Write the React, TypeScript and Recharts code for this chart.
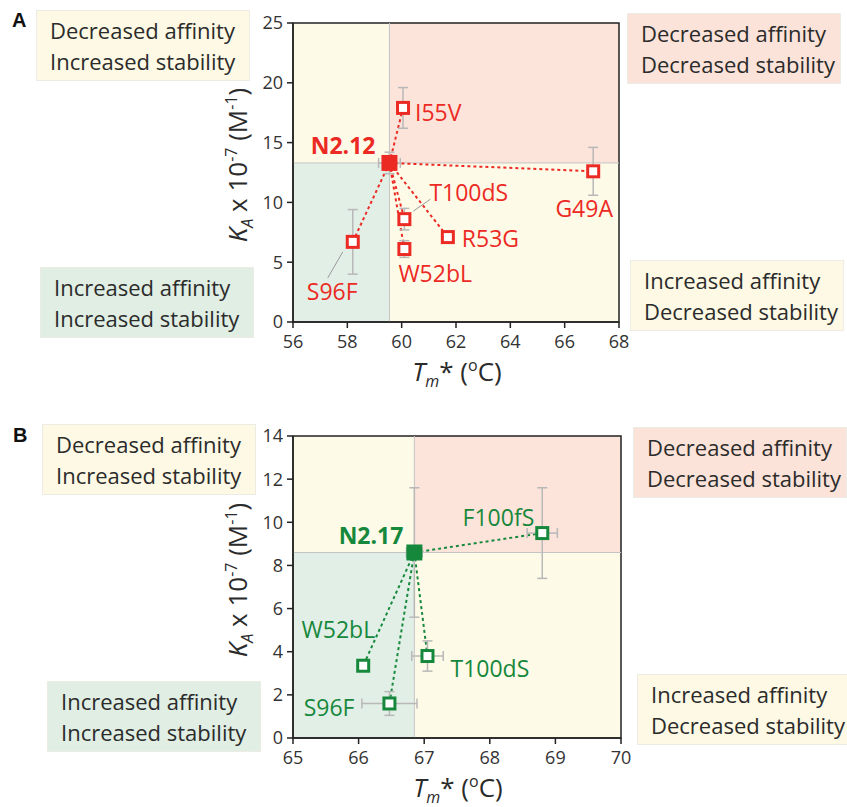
import {
  ErrorBar,
  ReferenceArea,
  ReferenceLine,
  Scatter,
  ScatterChart,
  XAxis,
  YAxis,
} from "recharts";

const FONT = "'Open Sans', sans-serif";
const RED = "#ec2a24";
const GREEN = "#16883c";
const FILL_YELLOW = "#fefae8";
const FILL_PINK = "#fce4da";
const FILL_GREEN = "#e2efe6";

// Panel A: N2.12 and its mutants
const A_X_TICKS = [56, 58, 60, 62, 64, 66, 68];
const A_Y_TICKS = [0, 5, 10, 15, 20, 25];
const A_WT = { name: "N2.12", tm: 59.55, ka: 13.3, tmErr: 0.4, kaErr: 0.9 };
const A_NAMES = ["I55V", "G49A", "T100dS", "W52bL", "R53G", "S96F"];
const A_TM = [60.05, 67.05, 60.1, 60.1, 61.7, 58.2];
const A_KA = [17.9, 12.6, 8.6, 6.1, 7.1, 6.7];
const A_TM_ERR = [0, 0, 0, 0, 0, 0];
const A_KA_ERR = [1.7, 2.0, 0.9, 0.7, 0, 2.7];

// Panel B: N2.17 and its mutants
const B_X_TICKS = [65, 66, 67, 68, 69, 70];
const B_Y_TICKS = [0, 2, 4, 6, 8, 10, 12, 14];
const B_WT = { name: "N2.17", tm: 66.85, ka: 8.6, tmErr: 0.12, kaErr: 3.0 };
const B_NAMES = ["F100fS", "T100dS", "S96F", "W52bL"];
const B_TM = [68.8, 67.05, 66.47, 66.07];
const B_KA = [9.5, 3.8, 1.6, 3.35];
const B_TM_ERR = [0.23, 0.24, 0.42, 0];
const B_KA_ERR = [2.1, 0.7, 0.55, 0];

interface Point {
  name: string;
  tm: number;
  ka: number;
  tmErr: number;
  kaErr: number;
}

interface LabelPos {
  dx: number;
  dy: number;
  anchor: "start" | "middle" | "end";
  leader?: [number, number, number, number];
}

// label placement relative to each marker, in pixels
const LABELS_A: Record<string, LabelPos> = {
  "N2.12": { dx: -14, dy: -18, anchor: "end" },
  I55V: { dx: 12, dy: 4, anchor: "start" },
  G49A: { dx: -9, dy: 37, anchor: "middle" },
  T100dS: { dx: 25, dy: -27, anchor: "start", leader: [9, -8, 26, -20] },
  W52bL: { dx: -6, dy: 24, anchor: "start" },
  R53G: { dx: 14, dy: 1, anchor: "start" },
  S96F: { dx: -46, dy: 49, anchor: "start", leader: [-10, 10, -25, 36] },
};

const LABELS_B: Record<string, LabelPos> = {
  "N2.17": { dx: -11, dy: -17, anchor: "end" },
  F100fS: { dx: -8, dy: -16, anchor: "end" },
  T100dS: { dx: 23, dy: 12, anchor: "start" },
  S96F: { dx: -35, dy: 4, anchor: "end" },
  W52bL: { dx: 12, dy: -37, anchor: "end" },
};

const buildRows = (
  names: string[],
  tm: number[],
  ka: number[],
  tmErr: number[],
  kaErr: number[]
): Point[] =>
  names.map((name, i) => ({ name, tm: tm[i], ka: ka[i], tmErr: tmErr[i], kaErr: kaErr[i] }));

const makeShape =
  (color: string, filled: boolean, labels: Record<string, LabelPos>) => (props: any) => {
    const { cx, cy, payload } = props;
    const pos = labels[payload.name];
    const s = filled ? 16 : 11;
    return (
      <g>
        {pos?.leader && (
          <line
            x1={cx + pos.leader[0]}
            y1={cy + pos.leader[1]}
            x2={cx + pos.leader[2]}
            y2={cy + pos.leader[3]}
            stroke="#9a9a9a"
            strokeWidth={1}
          />
        )}
        <rect
          x={cx - s / 2}
          y={cy - s / 2}
          width={s}
          height={s}
          fill={filled ? color : "#fff"}
          stroke={color}
          strokeWidth={filled ? 0 : 3}
        />
        {pos && (
          <text
            x={cx + pos.dx}
            y={cy + pos.dy}
            textAnchor={pos.anchor}
            dominantBaseline="central"
            fill={color}
            fontSize={23}
            fontWeight={filled ? 700 : 400}
            fontFamily={FONT}
          >
            {payload.name}
          </text>
        )}
      </g>
    );
  };

interface PanelProps {
  top: number;
  height: number;
  margin: { top: number; right: number; bottom: number; left: number };
  xTicks: number[];
  yTicks: number[];
  wt: Point;
  mutants: Point[];
  color: string;
  labels: Record<string, LabelPos>;
}

const Panel = ({ top, height, margin, xTicks, yTicks, wt, mutants, color, labels }: PanelProps) => {
  const x0 = xTicks[0];
  const x1 = xTicks[xTicks.length - 1];
  const y0 = yTicks[0];
  const y1 = yTicks[yTicks.length - 1];
  const tickStyle = { fill: "#333", fontSize: 18, fontFamily: FONT };
  return (
    <div style={{ position: "absolute", left: 0, top }}>
      <ScatterChart width={847} height={height} margin={margin}>
        <XAxis
          type="number"
          dataKey="tm"
          domain={[x0, x1]}
          ticks={xTicks}
          allowDataOverflow
          axisLine={{ stroke: "#222", strokeWidth: 1.5 }}
          tickLine={{ stroke: "#222", strokeWidth: 1.5 }}
          tickSize={6}
          tickMargin={7}
          tick={tickStyle}
          height={30}
        />
        <YAxis
          type="number"
          dataKey="ka"
          domain={[y0, y1]}
          ticks={yTicks}
          allowDataOverflow
          axisLine={{ stroke: "#222", strokeWidth: 1.5 }}
          tickLine={{ stroke: "#222", strokeWidth: 1.5 }}
          tickSize={6}
          tickMargin={4}
          tick={tickStyle}
          width={40}
        />
        <ReferenceArea x1={x0} x2={wt.tm} y1={wt.ka} y2={y1} fill={FILL_YELLOW} fillOpacity={1} />
        <ReferenceArea x1={wt.tm} x2={x1} y1={wt.ka} y2={y1} fill={FILL_PINK} fillOpacity={1} />
        <ReferenceArea x1={x0} x2={wt.tm} y1={y0} y2={wt.ka} fill={FILL_GREEN} fillOpacity={1} />
        <ReferenceArea x1={wt.tm} x2={x1} y1={y0} y2={wt.ka} fill={FILL_YELLOW} fillOpacity={1} />
        <ReferenceLine x={wt.tm} stroke="#c4c4c4" strokeWidth={1} />
        <ReferenceLine y={wt.ka} stroke="#c4c4c4" strokeWidth={1} />
        <ReferenceArea
          x1={x0}
          x2={x1}
          y1={y0}
          y2={y1}
          fill="none"
          stroke="#222"
          strokeWidth={1.5}
        />
        {mutants.map((m) => (
          <ReferenceLine
            key={m.name}
            segment={[
              { x: wt.tm, y: wt.ka },
              { x: m.tm, y: m.ka },
            ]}
            stroke={color}
            strokeWidth={2}
            strokeDasharray="3 3"
          />
        ))}
        <Scatter
          data={mutants}
          isAnimationActive={false}
          shape={makeShape(color, false, labels)}
        >
          <ErrorBar dataKey="kaErr" direction="y" width={5} stroke="#b8b8b8" strokeWidth={1.5} />
          <ErrorBar dataKey="tmErr" direction="x" width={5} stroke="#b8b8b8" strokeWidth={1.5} />
        </Scatter>
        <Scatter data={[wt]} isAnimationActive={false} shape={makeShape(color, true, labels)}>
          <ErrorBar dataKey="kaErr" direction="y" width={5} stroke="#b8b8b8" strokeWidth={1.5} />
          <ErrorBar dataKey="tmErr" direction="x" width={5} stroke="#b8b8b8" strokeWidth={1.5} />
        </Scatter>
      </ScatterChart>
    </div>
  );
};

const QBox = ({
  left,
  top,
  bg,
  lines,
}: {
  left: number;
  top: number;
  bg: string;
  lines: string[];
}) => (
  <div
    style={{
      position: "absolute",
      left,
      top,
      width: 214,
      height: 71,
      boxSizing: "border-box",
      background: bg,
      border: "1.5px solid #ecebe4",
      padding: "4px 0 0 13px",
      fontFamily: FONT,
      fontSize: 22,
      lineHeight: "31px",
      color: "#2b2b2b",
      whiteSpace: "nowrap",
    }}
  >
    {lines.map((l) => (
      <div key={l}>{l}</div>
    ))}
  </div>
);

const YLabel = ({ x, y }: { x: number; y: number }) => (
  <div
    style={{
      position: "absolute",
      left: x,
      top: y,
      transform: "translate(-50%, -50%) rotate(-90deg)",
      fontFamily: FONT,
      fontSize: 26,
      color: "#2b2b2b",
      whiteSpace: "nowrap",
      lineHeight: "30px",
    }}
  >
    <i>K</i>
    <sub style={{ fontSize: 16, fontStyle: "italic" }}>A</sub> x 10
    <sup style={{ fontSize: 16 }}>-7</sup> (M<sup style={{ fontSize: 16 }}>-1</sup>)
  </div>
);

const XLabel = ({ x, y }: { x: number; y: number }) => (
  <div
    style={{
      position: "absolute",
      left: x,
      top: y,
      transform: "translate(-50%, -50%)",
      fontFamily: FONT,
      fontSize: 26,
      color: "#2b2b2b",
      whiteSpace: "nowrap",
      lineHeight: "30px",
    }}
  >
    <i>T</i>
    <sub style={{ fontSize: 16, fontStyle: "italic" }}>m</sub>* (<sup style={{ fontSize: 16 }}>o</sup>C)
  </div>
);

const PanelLetter = ({ x, y, text }: { x: number; y: number; text: string }) => (
  <div
    style={{
      position: "absolute",
      left: x,
      top: y,
      fontFamily: "'Liberation Sans', Arial, sans-serif",
      fontWeight: 700,
      fontSize: 20,
      color: "#111",
    }}
  >
    {text}
  </div>
);

export default function App() {
  const mutantsA = buildRows(A_NAMES, A_TM, A_KA, A_TM_ERR, A_KA_ERR);
  const mutantsB = buildRows(B_NAMES, B_TM, B_KA, B_TM_ERR, B_KA_ERR);
  return (
    <div
      style={{
        position: "absolute",
        left: 0,
        top: 0,
        width: 847,
        height: 807,
        background: "#fff",
        overflow: "hidden",
      }}
    >
      <Panel
        top={0}
        height={400}
        margin={{ top: 23, right: 228, bottom: 48, left: 253 }}
        xTicks={A_X_TICKS}
        yTicks={A_Y_TICKS}
        wt={A_WT}
        mutants={mutantsA}
        color={RED}
        labels={LABELS_A}
      />
      <Panel
        top={400}
        height={407}
        margin={{ top: 36, right: 226, bottom: 39, left: 253 }}
        xTicks={B_X_TICKS}
        yTicks={B_Y_TICKS}
        wt={B_WT}
        mutants={mutantsB}
        color={GREEN}
        labels={LABELS_B}
      />

      <PanelLetter x={12} y={9} text="A" />
      <PanelLetter x={13} y={424} text="B" />

      <QBox left={36} top={10} bg="#fdf9e4" lines={["Decreased affinity", "Increased stability"]} />
      <QBox left={40} top={267} bg="#e0eee3" lines={["Increased affinity", "Increased stability"]} />
      <QBox left={627} top={13} bg="#fbe3d9" lines={["Decreased affinity", "Decreased stability"]} />
      <QBox left={630} top={260} bg="#fdf9e4" lines={["Increased affinity", "Decreased stability"]} />

      <QBox left={42} top={424} bg="#fdf9e4" lines={["Decreased affinity", "Increased stability"]} />
      <QBox left={47} top={681} bg="#e0eee3" lines={["Increased affinity", "Increased stability"]} />
      <QBox left={633} top={427} bg="#fbe3d9" lines={["Decreased affinity", "Decreased stability"]} />
      <QBox left={637} top={674} bg="#fdf9e4" lines={["Increased affinity", "Decreased stability"]} />

      <YLabel x={239} y={165} />
      <XLabel x={457} y={373} />
      <YLabel x={239} y={580} />
      <XLabel x={458} y={789} />
    </div>
  );
}
